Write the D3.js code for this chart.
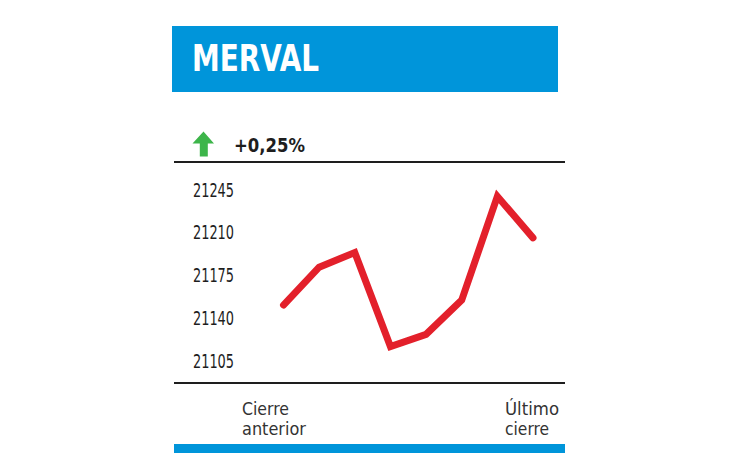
<!DOCTYPE html>
<html>
<head>
<meta charset="utf-8">
<script src="https://cdn.jsdelivr.net/npm/d3@7"></script>
<style>
  html, body { margin: 0; padding: 0; background: #fff; }
  svg { display: block; }
  .cond { font-family: "Liberation Sans Narrow", "DejaVu Sans Condensed", "Roboto", sans-serif; font-stretch: condensed; }
</style>
</head>
<body>
<svg id="chart" width="730" height="460"></svg>
<script>
const title = "MERVAL";
const change = "+0,25%";
const points = ["1", "2", "3", "4", "5", "6", "7", "8"];
const values = [21150, 21181, 21193, 21116, 21126, 21154, 21239, 21205];
const tickValues = [21105, 21140, 21175, 21210, 21245];
const startLabel = ["Cierre", "anterior"];
const endLabel = ["Último", "cierre"];

const svg = d3.select("#chart");
const blue = "#0095da";
const ink = "#1e1e1e";

// Header band
svg.append("rect").attr("x", 172).attr("y", 26).attr("width", 386).attr("height", 66).attr("fill", blue);
svg.append("text").attr("class", "cond")
  .attr("x", 192).attr("y", 71)
  .attr("font-size", 37).attr("font-weight", 700).attr("fill", "#fff")
  .attr("textLength", 127).attr("lengthAdjust", "spacingAndGlyphs")
  .text(title);

// Up arrow
const arrow = d3.path();
arrow.moveTo(203.5, 131.5);
arrow.lineTo(214, 143.5);
arrow.lineTo(207.8, 143.5);
arrow.lineTo(207.8, 156.5);
arrow.lineTo(199.8, 156.5);
arrow.lineTo(199.8, 143.5);
arrow.lineTo(192.5, 143.5);
arrow.closePath();
svg.append("path").attr("d", arrow.toString()).attr("fill", "#3db54a");

svg.append("text").attr("class", "cond")
  .attr("x", 234).attr("y", 152)
  .attr("font-size", 19).attr("font-weight", 700).attr("fill", ink)
  .attr("textLength", 71).attr("lengthAdjust", "spacingAndGlyphs")
  .text(change);

// Rules
svg.append("line").attr("x1", 174).attr("x2", 565).attr("y1", 162).attr("y2", 162)
  .attr("stroke", ink).attr("stroke-width", 2);
svg.append("line").attr("x1", 174).attr("x2", 565).attr("y1", 383).attr("y2", 383)
  .attr("stroke", ink).attr("stroke-width", 2);

// Scales
const y = d3.scaleLinear().domain([21105, 21245]).range([360, 189]);
const x = d3.scalePoint().domain(points).range([283.5, 533]);

// Y axis
const yAxis = d3.axisLeft(y).tickValues(tickValues).tickSize(0).tickPadding(0).tickFormat(d3.format("d"));
const gy = svg.append("g").attr("transform", "translate(234,0)").call(yAxis);
gy.select(".domain").remove();
gy.selectAll("text")
  .attr("class", "cond")
  .attr("font-size", 20).attr("fill", ink)
  .attr("dy", "0.36em")
  .attr("textLength", 41).attr("lengthAdjust", "spacingAndGlyphs")
  .style("font-family", null);

// Line
const line = d3.line().x((d, i) => x(points[i])).y(d => y(d));
svg.append("path").datum(values)
  .attr("d", line)
  .attr("fill", "none")
  .attr("stroke", "#e3202b")
  .attr("stroke-width", 7)
  .attr("stroke-linejoin", "miter")
  .attr("stroke-linecap", "round");

// Bottom labels
function label(lines, x0, widths) {
  lines.forEach((t, i) => {
    svg.append("text").attr("class", "cond")
      .attr("x", x0).attr("y", 414.5 + i * 20)
      .attr("font-size", 17).attr("fill", "#333")
      .attr("textLength", widths[i]).attr("lengthAdjust", "spacingAndGlyphs")
      .text(t);
  });
}
label(startLabel, 242, [47, 64]);
label(endLabel, 505, [54, 44]);

// Bottom band
svg.append("rect").attr("x", 174).attr("y", 444).attr("width", 391).attr("height", 9).attr("fill", blue);
</script>
</body>
</html>
